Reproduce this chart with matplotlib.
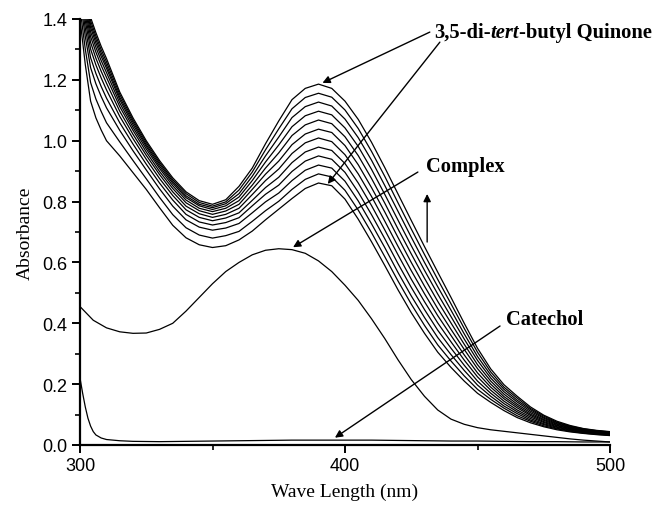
import matplotlib
matplotlib.use("Agg")
import matplotlib.pyplot as plt
from matplotlib.ticker import MultipleLocator, FormatStrFormatter

# ---------------- data ----------------
wl_q = [300, 302, 304, 306, 308, 310, 315, 320, 325, 330, 335, 340, 345, 350, 355,
        360, 365, 370, 375, 380, 385, 390, 395, 400, 405, 410, 415, 420, 425, 430,
        435, 440, 445, 450, 455, 460, 465, 470, 475, 480, 485, 490, 495, 500]

q01 = [1.400, 1.250, 1.130, 1.075, 1.035, 1.000, .950, .895, .840, .780,
       .722, .681, .658, .649, .655, .674, .703, .740,
       .775, .810, .843, .861, .852, .808, .742, .668, .590, .510, .435, .367, .305, .255, .210, .170,
       .140, .113, .090, .073, .060, .050, .043, .038, .034, .031]
q02 = [1.435, 1.301, 1.191, 1.137, 1.096, 1.059, .996, .935, .875, .814,
       .757, .714, .690, .680, .688, .702, .735, .770,
       .801, .840, .873, .891, .881, .837, .772, .698, .619, .539, .463, .393, .329, .276, .227, .183,
       .150, .121, .096, .078, .063, .053, .045, .039, .035, .032]
q03 = [1.464, 1.342, 1.240, 1.187, 1.145, 1.108, 1.034, .967, .904, .842,
       .785, .740, .716, .706, .713, .728, .763, .799,
       .828, .869, .903, .920, .910, .867, .802, .727, .649, .567, .490, .419, .353, .297, .245, .197,
       .160, .128, .103, .082, .067, .055, .047, .041, .037, .033]
q04 = [1.483, 1.370, 1.273, 1.221, 1.178, 1.140, 1.059, .989, .923, .861,
       .805, .758, .733, .723, .731, .747, .786, .824,
       .854, .899, .933, .950, .939, .896, .831, .757, .678, .596, .518, .445, .377, .318, .262, .210,
       .170, .136, .109, .087, .070, .058, .049, .042, .038, .035]
q05 = [1.499, 1.393, 1.301, 1.249, 1.206, 1.167, 1.080, 1.007, .939, .876,
       .820, .773, .748, .737, .746, .763, .804, .846,
       .880, .928, .963, .979, .968, .925, .861, .787, .707, .625, .545, .471, .401, .339, .279, .224,
       .180, .144, .115, .092, .074, .060, .051, .044, .039, .036]
q06 = [1.512, 1.411, 1.323, 1.271, 1.228, 1.189, 1.097, 1.021, .952, .889,
       .832, .785, .760, .748, .758, .778, .823, .869,
       .907, .958, .993, 1.009, .997, .954, .891, .817, .736, .653, .573, .497, .425, .360, .296, .237,
       .190, .152, .122, .097, .077, .063, .053, .045, .041, .037]
q07 = [1.523, 1.427, 1.342, 1.291, 1.247, 1.208, 1.112, 1.034, .963, .899,
       .843, .796, .770, .758, .769, .791, .840, .890,
       .933, .987, 1.022, 1.038, 1.027, .984, .921, .846, .766, .682, .600, .522, .448, .380, .314, .251,
       .200, .159, .128, .101, .081, .065, .054, .047, .042, .038]
q08 = [1.533, 1.441, 1.358, 1.307, 1.263, 1.224, 1.124, 1.044, .973, .909,
       .852, .805, .778, .767, .778, .803, .854, .910,
       .960, 1.017, 1.052, 1.068, 1.056, 1.013, .951, .876, .795, .710, .628, .548, .472, .401, .331, .264,
       .210, .167, .134, .106, .084, .068, .056, .048, .043, .039]
q09 = [1.541, 1.452, 1.372, 1.321, 1.277, 1.238, 1.135, 1.053, .981, .916,
       .860, .813, .786, .774, .786, .815, .869, .930,
       .986, 1.046, 1.082, 1.097, 1.085, 1.042, .981, .906, .824, .739, .655, .574, .496, .422, .348, .278,
       .220, .175, .141, .111, .088, .070, .058, .050, .044, .041]
q10 = [1.547, 1.462, 1.383, 1.333, 1.288, 1.248, 1.143, 1.061, .987, .923,
       .866, .819, .791, .780, .793, .826, .883, .950,
       1.012, 1.076, 1.112, 1.127, 1.114, 1.071, 1.010, .936, .853, .768, .683, .600, .520, .443, .365, .291,
       .230, .183, .147, .116, .091, .073, .060, .051, .046, .042]
q11 = [1.554, 1.471, 1.394, 1.344, 1.299, 1.259, 1.152, 1.068, .994, .929,
       .872, .826, .797, .785, .799, .838, .897, .970,
       1.039, 1.105, 1.142, 1.156, 1.143, 1.101, 1.040, .965, .883, .796, .710, .626, .544, .464, .383, .305,
       .240, .190, .154, .120, .095, .075, .062, .053, .047, .043]
q12 = [1.560, 1.480, 1.405, 1.355, 1.310, 1.270, 1.160, 1.075, 1.000, .935,
       .878, .832, .803, .791, .806, .850, .910, .990,
       1.065, 1.135, 1.172, 1.186, 1.172, 1.130, 1.070, .995, .912, .825, .738, .652, .568, .485, .400, .318,
       .250, .198, .160, .125, .098, .078, .064, .054, .048, .044]

wl_c = [300, 305, 310, 315, 320, 325, 330, 335, 340, 345, 350, 355, 360, 365, 370, 375, 380,
        385, 390, 395, 400, 405, 410, 415, 420, 425, 430, 435, 440, 445, 450, 455, 460, 465,
        470, 475, 480, 485, 490, 495, 500]
complex_abs = [.455, .410, .385, .372, .367, .368, .380, .400, .440, .485, .530, .570, .600, .625,
               .640, .645, .642, .630, .605, .570, .525, .475, .415, .350, .280, .215, .160, .115,
               .085, .068, .057, .050, .045, .040, .035, .030, .025, .020, .016, .013, .010]

wl_cat = [300, 301, 302, 303, 304, 305, 306, 308, 310, 315, 320, 330, 340, 350, 360, 370, 380,
          390, 400, 410, 420, 430, 440, 450, 460, 470, 480, 490, 500]
catechol_abs = [.220, .170, .125, .088, .062, .044, .033, .023, .018, .014, .012, .011, .012, .013,
                .014, .015, .016, .016, .016, .016, .015, .014, .013, .013, .012, .011, .011, .010, .010]

quinone_series = [q01, q02, q03, q04, q05, q06, q07, q08, q09, q10, q11, q12]

# ---------------- figure ----------------
fig = plt.figure(figsize=(6.56, 5.10), dpi=100)
ax = fig.add_axes([80 / 656, 1 - 446 / 510, 530 / 656, 426 / 510])

lw = 0.9
for s in quinone_series:
    ax.plot(wl_q, s, color="black", lw=lw, solid_joinstyle="round")
ax.plot(wl_c, complex_abs, color="black", lw=lw, solid_joinstyle="round")
ax.plot(wl_cat, catechol_abs, color="black", lw=lw, solid_joinstyle="round")

ax.set_xlim(300, 500)
ax.set_ylim(0, 1.4)

for side in ("top", "right"):
    ax.spines[side].set_visible(False)
for side in ("left", "bottom"):
    ax.spines[side].set_linewidth(1.6)

ax.xaxis.set_major_locator(MultipleLocator(100))
ax.xaxis.set_minor_locator(MultipleLocator(50))
ax.yaxis.set_major_locator(MultipleLocator(0.2))
ax.yaxis.set_minor_locator(MultipleLocator(0.1))
ax.yaxis.set_major_formatter(FormatStrFormatter("%.1f"))
ax.tick_params(which="major", direction="out", length=6, width=1.4,
               labelsize=13, pad=3)
ax.tick_params(which="minor", direction="out", length=3.5, width=1.2)
for lab in ax.get_xticklabels() + ax.get_yticklabels():
    lab.set_fontfamily("Liberation Sans")

ax.set_xlabel("Wave Length (nm)", fontfamily="Liberation Serif", fontsize=14, labelpad=6)
ax.set_ylabel("Absorbance", fontfamily="Liberation Serif", fontsize=14, labelpad=6)

arrow = dict(arrowstyle="-|>", color="black", lw=1.0, mutation_scale=11,
             shrinkA=0, shrinkB=0)
bold = dict(fontfamily="Liberation Serif", fontweight="bold", fontsize=14.8)

# Quinone label (with italic "tert")
t1 = ax.text(433.5, 1.357, "3,5-di-", ha="left", va="center", **bold)
t2 = ax.annotate("tert", xy=(1, 0), xycoords=t1, ha="left", va="bottom",
                 fontfamily="Liberation Serif", fontweight="bold", fontstyle="italic",
                 fontsize=14.8)
t3 = ax.annotate("-butyl Quinone", xy=(1, 0), xycoords=t2, ha="left", va="bottom", **bold)
ax.annotate("", xy=(391.5, 1.19), xytext=(432.0, 1.357), arrowprops=arrow)
ax.annotate("", xy=(393.5, 0.858), xytext=(435.8, 1.324), arrowprops=arrow)

# Complex label
ax.text(430.5, 0.917, "Complex", ha="left", va="center", **bold)
ax.annotate("", xy=(380.4, 0.650), xytext=(427.5, 0.897), arrowprops=arrow)

# Upward arrow
ax.annotate("", xy=(431.0, 0.825), xytext=(431.0, 0.667), arrowprops=arrow)

# Catechol label
ax.text(460.6, 0.414, "Catechol", ha="left", va="center", **bold)
ax.annotate("", xy=(396.2, 0.024), xytext=(458.5, 0.391), arrowprops=arrow)

fig.savefig("out.png", dpi=100)
